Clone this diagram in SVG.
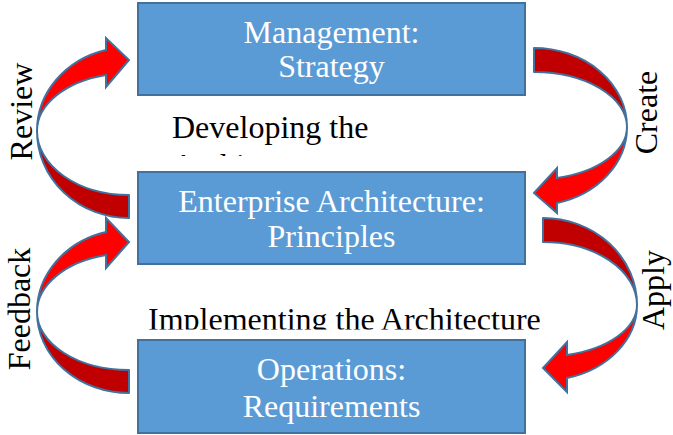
<svg xmlns="http://www.w3.org/2000/svg" width="673" height="435" viewBox="0 0 673 435">
  <defs>
    <style>
      .box { fill: #5B9BD5; stroke: #41719C; stroke-width: 2; }
      .boxtext { font-family: "Liberation Serif", "Times New Roman", serif; font-size: 32px; fill: #FFFFFF; text-anchor: middle; }
      .label { font-family: "Liberation Serif", "Times New Roman", serif; font-size: 32px; fill: #000000; }
      .back { fill: #C00000; stroke: #41719C; stroke-width: 2; stroke-linejoin: round; }
      .front { fill: #FF0000; stroke: #41719C; stroke-width: 2; stroke-linejoin: miter; }
    </style>
    <clipPath id="clipDev">
      <rect x="160" y="100" width="260" height="56"/>
    </clipPath>
    <clipPath id="clipImpl">
      <rect x="140" y="290" width="420" height="39.5"/>
    </clipPath>
  </defs>

  <!-- curved arrows -->
  <g id="connectors">
    <!-- Review: Principles back up to Strategy -->
    <g id="arrow-review">
      <path class="back" d="M129,218 A92,87 0 0 1 37,131 A92,64 0 0 0 129,195 Z"/>
      <path class="front" d="M37,131 A92,83.7 0 0 1 106,50 L106,38 L129,60 L106,87 L106,75 A92,57.8 0 0 0 37,131 Z"/>
    </g>
    <!-- Feedback: Requirements back up to Principles -->
    <g id="arrow-feedback">
      <path class="back" d="M129,393 A92,81 0 0 1 37,312 A92,58 0 0 0 129,370 Z"/>
      <path class="front" d="M37,312 A92,82.6 0 0 1 106,232 L106,218 L129,242 L106,268 L106,255 A92,58.9 0 0 0 37,312 Z"/>
    </g>
    <!-- Create: Strategy down to Principles -->
    <g id="arrow-create">
      <path class="back" d="M534,48 A93,79 0 0 1 627,127 A93,55 0 0 0 534,72 Z"/>
      <path class="front" d="M627,127 A93,78.4 0 0 1 557,203 L557,213 L534,193 L557,168 L557,178 A93,52.6 0 0 0 627,127 Z"/>
    </g>
    <!-- Apply: Principles down to Requirements -->
    <g id="arrow-apply">
      <path class="back" d="M543,218 A94,87 0 0 1 637,305 A94,63 0 0 0 543,242 Z"/>
      <path class="front" d="M637,305 A94,75.5 0 0 1 567,378 L567,392 L543,368 L567,342 L567,355 A94,51.7 0 0 0 637,305 Z"/>
    </g>
  </g>

  <g id="node-strategy">
    <rect class="box" x="138" y="3" width="387" height="92"/>
    <text class="boxtext" x="331.5" y="43">Management:</text>
    <text class="boxtext" x="331.5" y="77">Strategy</text>
  </g>

  <g id="node-principles">
    <rect class="box" x="138" y="172" width="387" height="92"/>
    <text class="boxtext" x="331.5" y="211.5">Enterprise Architecture:</text>
    <text class="boxtext" x="331.5" y="246.5">Principles</text>
  </g>

  <g id="node-requirements">
    <rect class="box" x="138" y="340" width="387" height="93"/>
    <text class="boxtext" x="331.5" y="380">Operations:</text>
    <text class="boxtext" x="331.5" y="417">Requirements</text>
  </g>

  <!-- phase captions (text frames cut off by their boxes) -->
  <g id="caption-developing" clip-path="url(#clipDev)">
    <text class="label" x="172" y="138">Developing the</text>
    <text class="label" x="172" y="176">Architecture</text>
  </g>
  <g id="caption-implementing" clip-path="url(#clipImpl)">
    <text class="label" x="148" y="329.5">Implementing the Architecture</text>
  </g>

  <!-- arrow labels, rotated -->
  <g id="labels" class="label" text-anchor="middle">
    <text transform="translate(32,111.5) rotate(-90)">Review</text>
    <text transform="translate(30,309) rotate(-90)">Feedback</text>
    <text transform="translate(657,112.5) rotate(-90)">Create</text>
    <text transform="translate(664,290) rotate(-90)">Apply</text>
  </g>
</svg>
